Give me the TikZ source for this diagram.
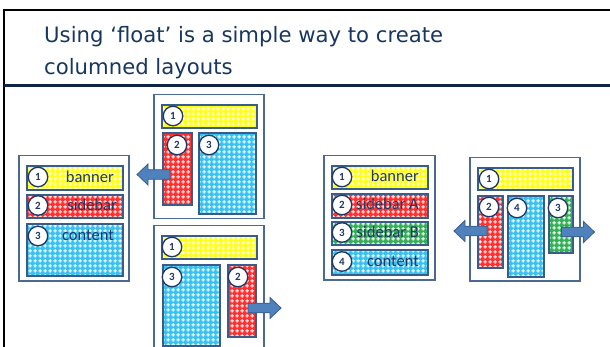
\documentclass[tikz,border=0pt]{standalone}
\usepackage{fontspec}
\setmainfont{Carlito}
\newfontfamily\titlefont{DejaVu Sans}
\usetikzlibrary{patterns}

\pgfdeclarepatternformonly{plusgrid}{\pgfpointorigin}{\pgfqpoint{4.6pt}{4.6pt}}{\pgfqpoint{4.6pt}{4.6pt}}{%
  \pgfsetlinewidth{1pt}%
  \pgfpathmoveto{\pgfqpoint{0.5pt}{2.3pt}}\pgfpathlineto{\pgfqpoint{4.1pt}{2.3pt}}%
  \pgfpathmoveto{\pgfqpoint{2.3pt}{0.5pt}}\pgfpathlineto{\pgfqpoint{2.3pt}{4.1pt}}%
  \pgfusepath{stroke}%
}

\definecolor{titlec}{HTML}{17375E}
\definecolor{framec}{HTML}{4A6A94}
\definecolor{boxc}{HTML}{385D8A}
\definecolor{navy}{HTML}{0F2444}
\definecolor{yc}{HTML}{FFFF1A}
\definecolor{rc}{HTML}{FF3030}
\definecolor{bc}{HTML}{38C2F2}
\definecolor{gc}{HTML}{35B058}
\definecolor{arrf}{HTML}{4F81BD}
\definecolor{arrd}{HTML}{385D8A}
\definecolor{numc}{HTML}{1F3864}

\tikzset{
  frame/.style={draw=framec, line width=1.5pt, fill=white, inner sep=0pt, anchor=north west},
  part/.style={draw=boxc, line width=1.6pt, inner sep=0pt, anchor=north west, pattern=plusgrid, pattern color=white},
  yel/.style={part, preaction={fill=yc}},
  red/.style={part, preaction={fill=rc}},
  blu/.style={part, preaction={fill=bc}},
  grn/.style={part, preaction={fill=gc}},
  num/.style={circle, draw=numc, line width=1.3pt, fill=white, minimum size=19.5pt, inner sep=0pt,
    font=\fontsize{11}{11}\selectfont\bfseries, text=numc},
  lbl/.style={anchor=base east, font=\fontsize{16.5}{16.5}\selectfont, text=numc, inner sep=0pt},
  ttl/.style={anchor=base west, font=\titlefont\fontsize{21.2}{21.2}\selectfont, text=titlec, inner sep=0pt},
  blockarr/.pic={\draw[draw=arrd, fill=arrf, line width=0.8pt]
     (0,-4.8) -- (22,-4.8) -- (22,-10.5) -- (33,0) -- (22,10.5) -- (22,4.8) -- (0,4.8) -- cycle;}
}

\begin{document}
\begin{tikzpicture}[x=1pt,y=-1pt]
\useasboundingbox (0,0) rectangle (610,347);
\clip (0,0) rectangle (610,347);
\fill[white] (0,0) rectangle (610,347);

% slide frame
\draw[black, line width=2pt] (4,10) -- (612,10);
\draw[black, line width=2.5pt] (4,9) -- (4,350);
\draw[navy, line width=2.2pt] (4,85.5) -- (612,85.5);

\node[ttl] (t1) at (44,43) {Using ‘float’ is a simple way to create};
\node[ttl] (t2) at (44,75) {columned layouts};

% Box A
\node[frame, minimum width=110pt, minimum height=125pt] (A) at (18,155) {};
\node[yel, minimum width=96pt, minimum height=24pt] (Ab) at (26,165) {};
\node[red, minimum width=96pt, minimum height=23pt] (As) at (26,194) {};
\node[blu, minimum width=96pt, minimum height=52pt] (Ac) at (26,223) {};
\node[num] (A1) at (38,177) {1};
\node[num] (A2) at (38,205.5) {2};
\node[num] (A3) at (38,236) {3};
\node[lbl] (Abl) at (114,182.5) {banner};
\node[lbl] (Asl) at (117,211) {sidebar};
\node[lbl] (Acl) at (114,241) {content};

% Box B
\node[frame, minimum width=110pt, minimum height=124pt] (B) at (153,94) {};
\node[yel, minimum width=95pt, minimum height=23pt] (Bb) at (161,104) {};
\node[red, minimum width=29pt, minimum height=72pt] (Bs) at (162,132) {};
\node[blu, minimum width=57pt, minimum height=81pt] (Bc) at (198,132) {};
\pic[rotate=180] at (170,174.5) {blockarr};
\node[num] (B1) at (173,116) {1};
\node[num] (B2) at (177,145) {2};
\node[num] (B3) at (209,145) {3};

% Box C
\node[frame, minimum width=110pt, minimum height=140pt] (C) at (153,225) {};
\node[yel, minimum width=95pt, minimum height=23pt] (Cb) at (161,235) {};
\node[blu, minimum width=57pt, minimum height=81pt] (Cc) at (162,264) {};
\node[red, minimum width=28pt, minimum height=72pt] (Cs) at (227,264) {};
\pic at (248,308) {blockarr};
\node[num] (C1) at (172,247) {1};
\node[num] (C3) at (172,277) {3};
\node[num] (C2) at (238,277) {2};

% Box D
\node[frame, minimum width=111pt, minimum height=124pt] (D) at (323,155) {};
\node[yel, minimum width=96pt, minimum height=23pt] (Db) at (331,165) {};
\node[red, minimum width=96pt, minimum height=24pt] (Ds) at (331,193) {};
\node[grn, minimum width=96pt, minimum height=23pt] (Dg) at (331,221) {};
\node[blu, minimum width=96pt, minimum height=25pt] (Dc) at (331,249) {};
\node[num] (D1) at (342,177) {1};
\node[num] (D2) at (342,205) {2};
\node[num] (D3) at (342,232.5) {3};
\node[num] (D4) at (342,261.5) {4};
\node[lbl] (Dbl) at (419,182) {banner};
\node[lbl] (Dsl) at (419,210) {sidebar A};
\node[lbl] (Dgl) at (419,238) {sidebar B};
\node[lbl] (Dcl) at (419,267) {content};

% Box E
\node[frame, minimum width=110pt, minimum height=123pt] (E) at (469,157) {};
\node[yel, minimum width=95pt, minimum height=22pt] (Eb) at (477,167) {};
\node[red, minimum width=25pt, minimum height=72pt] (Es) at (477,195) {};
\node[blu, minimum width=36pt, minimum height=81pt] (Ec) at (507,195) {};
\node[grn, minimum width=24pt, minimum height=57pt] (Eg) at (548,195) {};
\pic[rotate=180] at (487,231) {blockarr};
\pic at (561.5,232) {blockarr};
\node[num] (E1) at (489,179) {1};
\node[num] (E2) at (489,207) {2};
\node[num] (E4) at (517,208) {4};
\node[num] (E3) at (558,208) {3};
\end{tikzpicture}
\end{document}
